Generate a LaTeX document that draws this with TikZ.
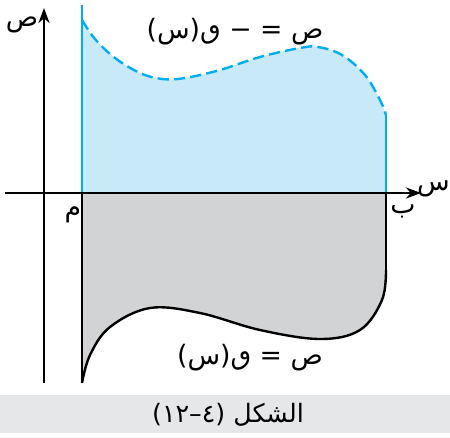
\documentclass[tikz,border=0pt]{standalone}
\usepackage{fontspec}
\newfontfamily\arabicfont[Script=Arabic]{DejaVu Sans}
\TeXXeTstate=1
\definecolor{cyanl}{HTML}{00AEEF}
\definecolor{skyf}{HTML}{C8E9F8}
\definecolor{greyf}{HTML}{D1D3D4}
\definecolor{barf}{HTML}{E6E7E8}
\usetikzlibrary{arrows.meta}
\tikzset{
  >={Stealth[length=3.8mm,width=2.8mm]},
  axis/.style={->,draw=black,line width=0.38mm},
  bline/.style={draw=cyanl,line width=0.6mm},
  kline/.style={draw=black,line width=0.6mm},
  lab/.style={font=\arabicfont\fontsize{19}{23}\selectfont,inner sep=1pt},
}

\begin{document}
\begin{tikzpicture}[x=0.25mm,y=0.25mm]
\useasboundingbox (0,0) rectangle (450,437);
% end points
\coordinate (a) at (82,244); \coordinate (b) at (386,244);
\coordinate (xs) at (5,244); \coordinate (xe) at (421,244);
\coordinate (ys) at (44,54); \coordinate (ye) at (44,429);
% areas
\fill[skyf] (a) -- (82,417) -- plot[smooth,tension=0.6] coordinates {(82,417) (95,398) (115,379) (140,364) (162,358) (185,359) (220,367) (260,380) (300,389) (318,390) (342,382) (365,362) (380,337) (386,322)} -- (b) -- cycle;
\fill[greyf] (a) -- (82,54) -- plot[smooth,tension=0.6] coordinates {(82,54) (90,82) (110,110) (150,129) (200,124) (260,107) (320,98) (360,107) (382,137) (386,167)} -- (b) -- cycle;
% curves
\draw[bline,dash pattern=on 2.8mm off 1.3mm] plot[smooth,tension=0.6] coordinates {(82,417) (95,398) (115,379) (140,364) (162,358) (185,359) (220,367) (260,380) (300,389) (318,390) (342,382) (365,362) (380,337) (386,322)};
\draw[kline] plot[smooth,tension=0.6] coordinates {(82,54) (90,82) (110,110) (150,129) (200,124) (260,107) (320,98) (360,107) (382,137) (386,167)};
\draw[bline] (82,432) -- (a); \draw[bline] (386,322) -- (b);
\draw[kline] (a) -- (82,54); \draw[kline] (b) -- (386,167);
% axes
\draw[axis] (xs) -- (xe);
\draw[axis] (ys) -- (ye);
\node[lab] (ylab) at (22,412) {\beginR ص\endR};
\node[lab,anchor=east,inner sep=0pt] (xlab) at (450,248) {\beginR س\endR};
\node[lab] (blab) at (403,226) {\beginR ب\endR};
\node[lab] (alab) at (73,222) {\beginR م\endR};
\node[lab] (ftop) at (235,405) {\beginR ص = − ٯ(س)\endR};
\node[lab] (fbot) at (250,79) {\beginR ص = ٯ(س)\endR};
% caption
\fill[barf] (0,4) rectangle (450,42);
\node[lab,font=\arabicfont\fontsize{18}{22}\selectfont] (cap) at (228,22) {\beginR الشكل (٤–١٢)\endR};
\end{tikzpicture}
\end{document}
